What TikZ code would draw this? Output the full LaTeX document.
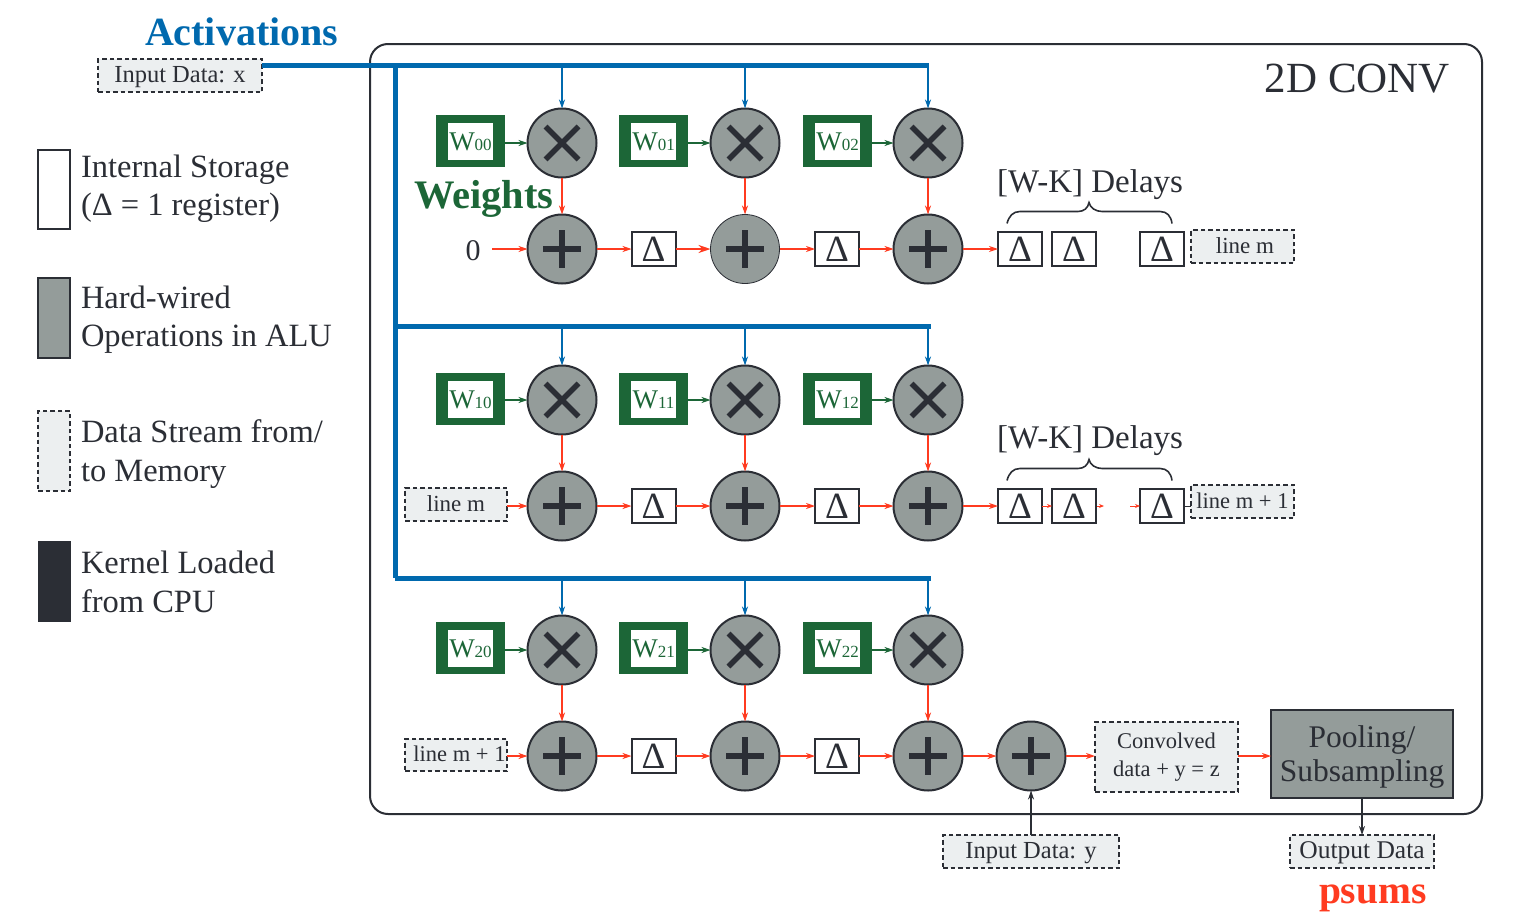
\documentclass[tikz,border=0pt]{standalone}
\usepackage{fontspec}
\setmainfont{Liberation Serif}
\usetikzlibrary{arrows.meta,calc}
\definecolor{cblue}{HTML}{0069AE}
\definecolor{cgreen}{HTML}{1C6637}
\definecolor{cred}{HTML}{FF3B20}
\definecolor{cdark}{HTML}{2B2E35}
\definecolor{cgray}{HTML}{949C9A}
\definecolor{clight}{HTML}{ECEFF0}
\newcommand{\fsz}[1]{\fontsize{#1pt}{#1pt}\selectfont}
\tikzset{
  x=1pt,y=-1pt,
  every node/.style={inner sep=0pt,outer sep=0pt,text=cdark},
  opnode/.style={circle,draw=cdark,line width=2pt,fill=cgray,minimum size=69pt},
  addop/.style={opnode,path picture={\draw[cdark,line width=5.5pt]
     ($(path picture bounding box.center)+(-19,0)$)--++(38,0)
     ($(path picture bounding box.center)+(0,-19)$)--++(0,38);}},
  mulop/.style={opnode,path picture={\draw[cdark,line width=5.5pt]
     ($(path picture bounding box.center)+(-16.5,-16.5)$)--++(33,33)
     ($(path picture bounding box.center)+(-16.5,16.5)$)--++(33,-33);}},
  delta/.style={draw=cdark,line width=2pt,fill=white,minimum width=44pt,minimum height=34pt,font=\fsz{37}},
  wouter/.style={fill=cgreen,minimum width=69pt,minimum height=52pt},
  winner/.style={fill=white,minimum width=45pt,minimum height=37pt,text=cgreen,font=\fsz{27},text height=19pt,text depth=-3pt},
  datab/.style={draw=cdark,line width=2pt,dash pattern=on 4.5pt off 3pt,fill=clight,font=\fsz{24.5}},
  dline/.style={text height=14pt,text depth=0.5pt},
  rarrow/.style={draw=cred,line width=1.1pt,-{Stealth[length=9pt,width=6pt]}},
  garrow/.style={draw=cgreen,line width=1.1pt,-{Stealth[length=9pt,width=6pt]}},
  barrow/.style={draw=cblue,line width=1.1pt,-{Stealth[length=9pt,width=6pt]}},
  darrow/.style={draw=cdark,line width=1.1pt,-{Stealth[length=9pt,width=6pt]}},
  bus/.style={draw=cblue,line width=5pt},
  legtext/.style={anchor=west,align=left,font=\fsz{32.5},text=cdark},
  brace/.style={draw=cdark,line width=1.6pt},
}
\begin{document}
\begin{tikzpicture}
\useasboundingbox (0,0) rectangle (1528,921);
% frame
\node[draw=cdark,line width=2pt,rounded corners=18pt,minimum width=1112pt,minimum height=770pt] (frame) at (926,429) {};
\node[anchor=base east,font=\fsz{43}] (conv) at (1450,92) {2D CONV};
% titles
\node[anchor=base west,font=\fsz{40}\bfseries,text=cblue] (act) at (145,45) {Activations};
\node[anchor=base west,font=\fsz{40.5}\bfseries,text=cgreen] (wt) at (414,208) {Weights};
\node[anchor=base west,font=\fsz{39.5}\bfseries,text=cred] (ps) at (1319,903) {psums};
% data
\node[datab,dline,minimum width=164pt,minimum height=33pt] (inx) at (180,75.5) {Input Data: x};
\node[datab,dline,minimum width=103pt,minimum height=33pt,font=\fsz{23}] (l1) at (1242.5,246.5) {\hspace{5pt}line m};
\node[datab,dline,minimum width=102pt,minimum height=33pt,font=\fsz{23}] (l2) at (456,504.5) {line m};
\node[datab,dline,minimum width=103pt,minimum height=33pt,font=\fsz{22.5}] (l3) at (1242.5,501.5) {line m + 1};
\node[datab,dline,minimum width=102pt,minimum height=32pt,font=\fsz{22.5}] (l4) at (456,755) {\hspace{7pt}line m + 1};
\node[datab,minimum width=143pt,minimum height=70pt,align=center,font=\fsz{22.5}] (conv2) at (1166.5,757) {Convolved\\[5pt]data + y = z};
\node[draw=cdark,line width=2pt,fill=cgray,minimum width=182pt,minimum height=88pt,align=center,font=\fsz{31.5}] (pool) at (1362,754) {\rule{0pt}{30pt}\raisebox{2pt}{Pooling/}\\[1pt]Subsampling};
\node[datab,dline,minimum width=176pt,minimum height=33pt] (iny) at (1031,851.5) {Input Data: y};
\node[datab,dline,minimum width=144pt,minimum height=33pt,font=\fsz{25.5}] (outd) at (1362,851.5) {Output Data};
% buses
\coordinate (b0) at (929,65.5);
\coordinate (bv) at (395,65.5);
\coordinate (bv1) at (395,326);
\coordinate (bv2) at (395,578);
\coordinate (b1) at (931,326);
\coordinate (b2) at (931,578);
\draw[bus] (inx.east|-b0) -- (b0);
\draw[bus] (bv) -- (bv2);
\draw[bus] (bv1) -- (b1);
\draw[bus] (bv2) -- (b2);
% operators
\foreach \r/\my/\ay/\wy/\by in {0/143/249/141/65.5,1/400/506/399/326,2/650/756/648/578}{
  \foreach \c/\x/\wx in {0/562/470.5,1/745/653.5,2/928/837.5}{
    \node[mulop] (m\r\c) at (\x,\my) {};
    \ifnum\r\c=01
      \node[addop,line width=0.8pt] (a\r\c) at (\x,\ay) {};
    \else
      \node[addop] (a\r\c) at (\x,\ay) {};
    \fi
    \node[wouter] (wo\r\c) at (\wx,\wy) {};
    \node[winner] (w\r\c) at (\wx,\wy) {W{\fsz{17}\r\c}};
    \coordinate (t\r\c) at (\x,\by);
    \draw[barrow,xshift=-0.7pt] (t\r\c) -- (m\r\c.north);
    \draw[garrow] (wo\r\c.east|-m\r\c.west) -- (m\r\c.west);
    \draw[rarrow] (m\r\c.south) -- (a\r\c.north);
  }
  \node[delta] (d\r0) at (653.5,\ay) {Δ};
  \node[delta] (d\r1) at (837,\ay) {Δ};
  \draw[rarrow] (a\r0) -- (d\r0);
  \draw[rarrow] (d\r1) -- (a\r2);
  \draw[rarrow] (a\r1) -- (d\r1);
}
\draw[rarrow] (d10) -- (a11);
\draw[rarrow] (d20) -- (a21);
\draw[cred,line width=2pt,-{Stealth[length=12pt,width=8pt]}] (d00) -- (a01);
% delay chains
\foreach \r/\ay in {0/249,1/506}{
  \node[delta] (e\r0) at (1020,\ay) {Δ};
  \node[delta] (e\r1) at (1074,\ay) {Δ};
  \node[delta] (e\r2) at (1162,\ay) {Δ};
  \draw[rarrow] (a\r2) -- (e\r0);
  \begin{scope}[shift={(e\r0.north)}]
    \draw[brace] (-13,-8.5) .. controls (-11,-16) and (-7,-20.5) .. (0,-20.5) -- (58,-20.5)
      .. controls (64,-20.5) and (68,-24) .. (69,-29.5)
      .. controls (70,-24) and (76,-20.5) .. (82,-20.5) -- (140,-20.5)
      .. controls (147,-20.5) and (151,-16) .. (152,-8.5);
  \end{scope}
}
% row 1 small arrows
\coordinate (s1) at (1097,506);
\coordinate (s2) at (1104,506);
\coordinate (s3) at (1130,506);
\draw[cred,line width=0.8pt,-{Stealth[length=5pt,width=4pt]}] (e10) -- (e11);
\draw[cred,line width=0.8pt,-{Stealth[length=5pt,width=4pt]}] (s1) -- (s2);
\draw[cred,line width=0.8pt,-{Stealth[length=5pt,width=4pt]}] (s3) -- (e12);
\draw[cdark,line width=0.8pt] (e12.east) -- (l3.west|-e12.east);
\node[anchor=base west,font=\fsz{33}] (dl0) at (997,192) {[W-K] Delays};
\node[anchor=base west,font=\fsz{33}] (dl1) at (997,448) {[W-K] Delays};
% inputs
\node[font=\fsz{30}] (zero) at (473,251) {0};
\coordinate (z0) at (492,249);
\draw[rarrow] (z0) -- (a00.west);
\draw[rarrow] (l2.east|-a10.west) -- (a10.west);
\draw[rarrow] (l4.east|-a20.west) -- (a20.west);
% final
\node[addop] (af) at (1031,756) {};
\draw[rarrow] (a22) -- (af);
\draw[rarrow] (af) -- (conv2.west|-af);
\draw[rarrow] (conv2.east|-af) -- (pool.west|-af);
\draw[darrow] (iny) -- (af);
\draw[darrow] (pool) -- (outd);
% legend
\node[draw=cdark,line width=2pt,fill=white,minimum width=32pt,minimum height=79pt] (k1) at (54,189.5) {};
\node[draw=cdark,line width=2pt,fill=cgray,minimum width=32pt,minimum height=80pt] (k2) at (54,318) {};
\node[datab,minimum width=32pt,minimum height=80pt] (k3) at (54,451) {};
\node[fill=cdark,minimum width=33pt,minimum height=81pt] (k4) at (54,581) {};
\node[legtext] (t1) at (81,188.5) {Internal Storage\\[6pt](Δ = 1 register)};
\node[legtext] (t2) at (81,319.5) {Hard-wired\\[6pt]Operations in ALU};
\node[legtext] (t3) at (81,454) {Data Stream from/\\[6pt]to Memory};
\node[legtext] (t4) at (81,582) {Kernel Loaded\\[6pt]from CPU};
\end{tikzpicture}
\end{document}
